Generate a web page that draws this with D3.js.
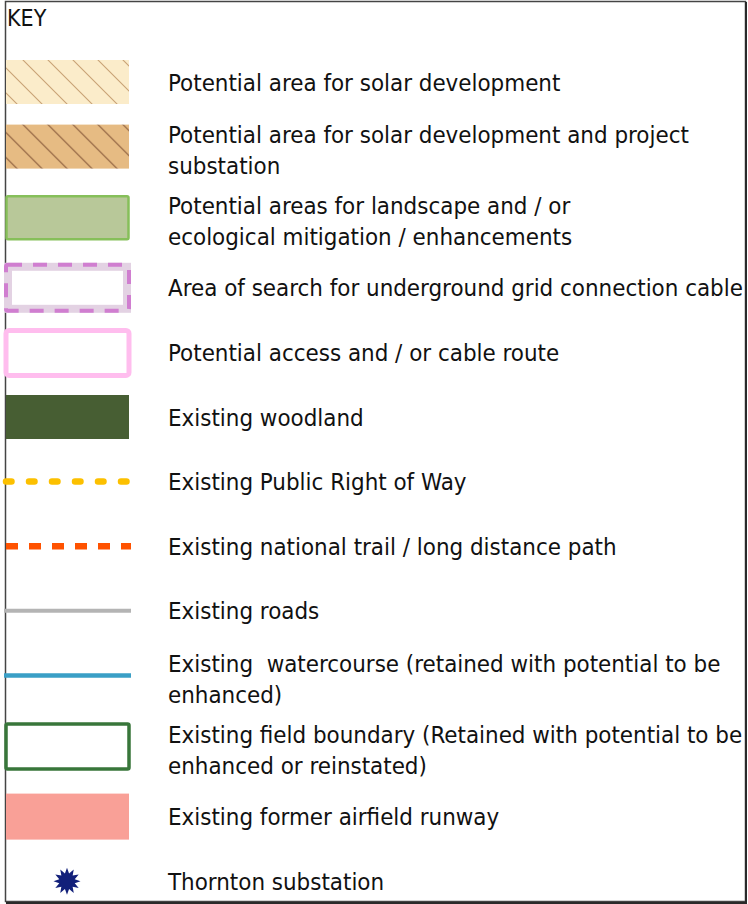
<!DOCTYPE html>
<html>
<head>
<meta charset="utf-8">
<script src="https://cdn.jsdelivr.net/npm/d3@7"></script>
<style>
  body { margin: 0; background: #fff; }
  text { font-family: Tahoma, "DejaVu Sans Condensed", "DejaVu Sans", sans-serif; fill: #111; }
</style>
</head>
<body>
<div id="key"></div>
<script>
var svgWidth = 748;
var svgHeight = 904;

// legend entries (text lines per entry) and symbol type
var keyTitle = "KEY";
var labels = [
  ["Potential area for solar development"],
  ["Potential area for solar development and project", "substation"],
  ["Potential areas for landscape and / or", "ecological mitigation / enhancements"],
  ["Area of search for underground grid connection cable"],
  ["Potential access and / or cable route"],
  ["Existing woodland"],
  ["Existing Public Right of Way"],
  ["Existing national trail / long distance path"],
  ["Existing roads"],
  ["Existing  watercourse (retained with potential to be", "enhanced)"],
  ["Existing field boundary (Retained with potential to be", "enhanced or reinstated)"],
  ["Existing former airfield runway"],
  ["Thornton substation"]
];
var symbols = ["solar", "solarSub", "mitigation", "search", "access", "woodland",
  "prow", "trail", "road", "water", "field", "runway", "star"];

var svg = d3.select("#key").append("svg")
  .attr("width", svgWidth)
  .attr("height", svgHeight);

var defs = svg.append("defs");

function hatch(id, bg, line) {
  var p = defs.append("pattern")
    .attr("id", id)
    .attr("patternUnits", "userSpaceOnUse")
    .attr("width", 25)
    .attr("height", 25)
    .attr("patternTransform", "translate(6,61)");
  p.append("rect").attr("width", 25).attr("height", 25).attr("fill", bg);
  p.append("path")
    .attr("d", "M-2,-2 L27,27 M-2,23 L2,27 M23,-2 L27,2")
    .attr("stroke", line)
    .attr("stroke-width", 1.1);
}
hatch("hatchLight", "#fbecca", "#c9a275");
hatch("hatchDark", "#e6bb83", "#8a5c3c");

// border of the key panel
svg.append("rect")
  .attr("x", 5.5).attr("y", 1.5)
  .attr("width", 740).attr("height", 900)
  .attr("fill", "none")
  .attr("stroke", "#444")
  .attr("stroke-width", 1.5);
svg.append("path")
  .attr("d", "M746,2 V903 H6")
  .attr("fill", "none")
  .attr("stroke", "#2a2a2a")
  .attr("stroke-width", 2);

svg.append("text")
  .attr("x", 7)
  .attr("y", 26)
  .style("font-size", "23px")
  .text(keyTitle);

// row layout: fixed pitch plus extra room after each two-line entry
var rowIndex = d3.scaleLinear().domain([0, 1]).range([82, 146.6]);
var rowY = [];
var extra = 0;
labels.forEach(function(l, i) {
  rowY.push(rowIndex(i) + extra);
  if (l.length > 1) extra += 6;
});

var sx = 6, sw = 123;   // swatch left edge and width

var rows = svg.selectAll(".row")
  .data(symbols)
  .enter()
  .append("g")
  .attr("class", "row")
  .attr("transform", (d, i) => `translate(0, ${rowY[i]})`);

rows.each(function(kind) {
  var g = d3.select(this);
  if (kind === "solar" || kind === "solarSub") {
    g.append("rect")
      .attr("x", sx).attr("y", -22).attr("width", sw).attr("height", 44)
      .attr("fill", kind === "solar" ? "url(#hatchLight)" : "url(#hatchDark)");
  } else if (kind === "mitigation") {
    g.append("rect")
      .attr("x", 6.5).attr("y", -21).attr("width", 122).attr("height", 43)
      .attr("rx", 1.5)
      .attr("fill", "#b8c899")
      .attr("stroke", "#86bf5a")
      .attr("stroke-width", 2.5);
  } else if (kind === "search") {
    g.append("rect")
      .attr("x", 8).attr("y", -21).attr("width", 119).attr("height", 42)
      .attr("fill", "#fff")
      .attr("stroke", "#e3d2e3")
      .attr("stroke-width", 8);
    g.append("rect")
      .attr("x", 6).attr("y", -23).attr("width", 123).attr("height", 46)
      .attr("rx", 2)
      .attr("fill", "none")
      .attr("stroke", "#d07ed0")
      .attr("stroke-width", 4)
      .attr("stroke-dasharray", "14,11");
  } else if (kind === "access") {
    g.append("rect")
      .attr("x", 6).attr("y", -22).attr("width", 123).attr("height", 45)
      .attr("rx", 3)
      .attr("fill", "#fff")
      .attr("stroke", "#ffbdee")
      .attr("stroke-width", 5);
  } else if (kind === "woodland") {
    g.append("rect")
      .attr("x", sx).attr("y", -22).attr("width", sw).attr("height", 44)
      .attr("fill", "#475e33");
  } else if (kind === "prow" || kind === "trail") {
    g.append("line")
      .attr("x1", 6).attr("x2", 131).attr("y1", 0).attr("y2", 0)
      .attr("stroke", kind === "prow" ? "#fcc000" : "#ff5200")
      .attr("stroke-width", 6.5)
      .attr("stroke-linecap", kind === "prow" ? "round" : "butt")
      .attr("stroke-dasharray", kind === "prow" ? "5.5,17.5" : "12,11");
  } else if (kind === "road") {
    g.append("line")
      .attr("x1", 4).attr("x2", 131).attr("y1", 0).attr("y2", 0)
      .attr("stroke", "#b4b4b4")
      .attr("stroke-width", 4);
  } else if (kind === "water") {
    g.append("line")
      .attr("x1", 4).attr("x2", 131).attr("y1", 0).attr("y2", 0)
      .attr("stroke", "#3a9fc6")
      .attr("stroke-width", 4.5);
  } else if (kind === "field") {
    g.append("rect")
      .attr("x", 6).attr("y", -22).attr("width", 123).attr("height", 45)
      .attr("rx", 1.5)
      .attr("fill", "#fff")
      .attr("stroke", "#38763a")
      .attr("stroke-width", 3.5);
  } else if (kind === "runway") {
    g.append("rect")
      .attr("x", sx).attr("y", -23).attr("width", sw).attr("height", 46)
      .attr("fill", "#f9a097");
  } else if (kind === "star") {
    var pts = d3.range(24).map(function(k) {
      var a = k * Math.PI / 12 - Math.PI / 2;
      var r = k % 2 === 0 ? 13.5 : 8;
      return [67 + r * Math.cos(a), r * Math.sin(a)];
    });
    g.append("path")
      .attr("d", d3.line()(pts) + "Z")
      .attr("fill", "#12207a");
  }
});

// label text
var lineHeight = 31;
var labelGroups = rows.append("text")
  .attr("x", 168)
  .style("font-size", "20px")
  .attr("y", (d, i) => {
    var n = labels[i].length;
    return 8.5 - (n - 1) * lineHeight / 2 + (n > 1 ? 3.5 : 0);
  });

labelGroups.each(function(d, i) {
  var t = d3.select(this);
  labels[i].forEach(function(line, j) {
    t.append("tspan")
      .attr("x", 168)
      .attr("dy", j === 0 ? 0 : lineHeight)
      .style("white-space", "pre")
      .text(line);
  });
});

// fit font size so the longest line spans like the reference
var longest = labelGroups.filter((d, i) => i === 3).node().getComputedTextLength();
var fontSize = 20 * 575 / longest;
labelGroups.style("font-size", fontSize + "px");
</script>
</body>
</html>
